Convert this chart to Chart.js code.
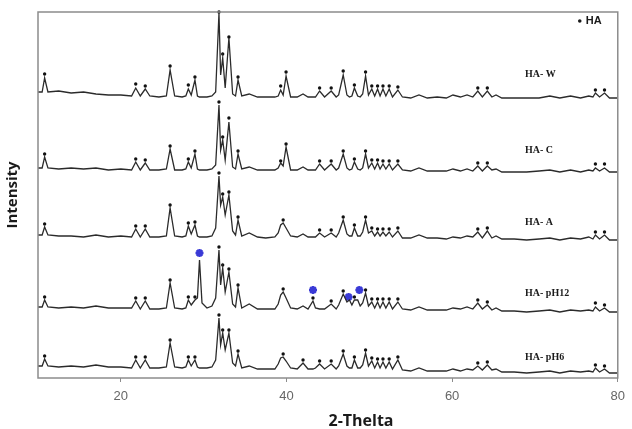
<!DOCTYPE html>
<html>
<head>
<meta charset="utf-8">
<script src="https://cdn.jsdelivr.net/npm/chart.js@4.4.1/dist/chart.umd.min.js"></script>
<style>
  html, body { margin: 0; padding: 0; background: #fff; }
</style>
</head>
<body>
<canvas id="grafico" width="632" height="429"></canvas>
<script>
// Eixo 2-theta (graus) comum a todas as curvas
const theta = [10.0, 10.5, 10.8, 11.2, 12.5, 14.0, 15.5, 17.0, 18.5, 20.0,
  21.3, 21.8, 22.35, 22.95, 23.5, 24.6, 25.5, 25.95, 26.5, 27.4,
  27.85, 28.15, 28.5, 28.95, 29.25, 29.5, 29.8, 30.4, 31.0, 31.45,
  31.85, 32.05, 32.3, 32.6, 33.05, 33.5, 33.85, 34.15, 34.6, 35.5,
  36.5, 37.5, 38.6, 39.0, 39.3, 39.6, 39.95, 40.5, 41.3, 42.0,
  42.6, 43.2, 43.5, 44.0, 44.6, 45.4, 46.0, 46.3, 46.85, 47.3,
  47.6, 47.9, 48.2, 48.6, 48.9, 49.2, 49.55, 49.9, 50.3, 50.65,
  51.0, 51.3, 51.65, 52.0, 52.4, 52.8, 53.45, 54.0, 55.0, 56.0,
  57.0, 58.2, 59.3, 60.1, 61.0, 61.8, 62.5, 63.1, 63.65, 64.25,
  64.8, 65.3, 66.0, 67.5, 69.0, 70.5, 71.8, 73.0, 74.3, 75.5,
  76.5, 77.0, 77.3, 77.8, 78.4, 79.0, 80.0];

// Intensidades (u.a., ja com deslocamento vertical de cada amostra)
const intW = [286, 286, 300, 286, 287, 285, 286, 284, 283, 283,
  282, 290, 282, 289, 282, 281, 282, 308, 282, 281,
  282, 289, 283, 298, 282, 281, 281, 281, 282, 286,
  365, 303, 320, 290, 340, 284, 282, 298, 282, 284,
  281, 281, 281, 282, 288, 283, 302, 281, 281, 284,
  281, 281, 281, 287, 281, 287, 281, 283, 303, 283,
  281, 282, 290, 282, 281, 284, 302, 283, 289, 282,
  289, 282, 289, 282, 289, 281, 288, 281, 280, 283,
  280, 281, 280, 283, 281, 283, 281, 287, 281, 287,
  281, 283, 280, 280, 280, 280, 282, 280, 282, 280,
  282, 281, 285, 281, 285, 280, 280];

const intC = [210, 210, 221, 210, 209, 210, 209, 210, 208, 209,
  208, 216, 208, 215, 208, 208, 209, 229, 208, 208,
  209, 216, 210, 224, 209, 208, 208, 208, 209, 213,
  273, 228, 238, 218, 256, 211, 209, 224, 209, 211,
  208, 208, 208, 210, 215, 212, 231, 208, 208, 211,
  208, 208, 208, 214, 208, 214, 208, 210, 224, 210,
  208, 209, 216, 209, 208, 210, 224, 210, 215, 209,
  215, 209, 214, 209, 214, 208, 214, 208, 207, 210,
  207, 207, 207, 209, 207, 209, 207, 212, 207, 212,
  208, 209, 206, 206, 206, 207, 208, 206, 208, 206,
  208, 207, 210, 207, 210, 206, 206];

const intA = [143, 143, 151, 143, 142, 142, 141, 143, 141, 142,
  141, 149, 141, 149, 141, 141, 142, 170, 142, 141,
  142, 152, 144, 153, 142, 141, 141, 141, 142, 150,
  202, 173, 181, 163, 183, 147, 143, 158, 142, 145,
  141, 140, 141, 145, 153, 155, 150, 142, 141, 144,
  141, 141, 141, 145, 141, 145, 141, 145, 158, 144,
  142, 142, 150, 142, 142, 146, 158, 145, 147, 142,
  146, 142, 146, 142, 146, 141, 147, 140, 140, 143,
  140, 140, 139, 141, 140, 142, 141, 146, 140, 147,
  140, 142, 139, 139, 138, 139, 140, 138, 140, 139,
  141, 139, 143, 139, 143, 138, 138];

const intPH12 = [71, 71, 78, 71, 70, 71, 70, 72, 70, 70,
  70, 77, 69, 77, 69, 69, 70, 95, 70, 69,
  70, 78, 73, 78, 80, 118, 75, 70, 72, 80,
  128, 93, 110, 86, 106, 74, 71, 90, 70, 74,
  69, 69, 69, 74, 83, 86, 80, 70, 69, 72,
  69, 77, 70, 69, 69, 74, 69, 73, 84, 76,
  78, 73, 78, 78, 72, 75, 85, 72, 76, 70,
  76, 70, 76, 70, 76, 69, 76, 69, 68, 71,
  68, 68, 68, 70, 69, 71, 69, 75, 69, 73,
  68, 70, 67, 67, 66, 67, 68, 66, 68, 67,
  68, 67, 71, 67, 70, 66, 66];

const intPH6 = [12, 12, 19, 12, 11, 12, 11, 13, 11, 11,
  10, 18, 10, 18, 10, 10, 11, 35, 11, 10,
  11, 18, 12, 18, 11, 10, 10, 10, 11, 18,
  60, 33, 45, 28, 45, 15, 12, 24, 10, 12,
  9, 9, 9, 14, 20, 21, 17, 10, 9, 15,
  9, 9, 10, 14, 9, 14, 9, 12, 24, 12,
  10, 10, 18, 10, 10, 13, 25, 12, 17, 10,
  16, 10, 16, 10, 16, 9, 18, 8, 7, 10,
  7, 7, 7, 9, 7, 9, 8, 12, 8, 13,
  8, 9, 6, 6, 5, 6, 7, 5, 7, 6,
  7, 6, 10, 6, 9, 5, 5];

// Marcadores de picos de HA (ponto preto)
const dotTheta = [10.8, 21.8, 22.95, 25.95, 28.15, 28.95, 31.85, 32.3, 33.05, 34.15,
  39.3, 39.6, 39.95, 42.0, 43.2, 44.0, 45.4, 46.85, 48.2, 49.55,
  50.3, 51.0, 51.65, 52.4, 53.45, 63.1, 64.25, 77.3, 78.4];
const dotW = [304, 294, 292, 312, 293, 301, 366, 324, 341, 301,
  292, null, 306, null, null, 290, 290, 307, 293, 306,
  292, 292, 292, 292, 291, 290, 290, 288, 288];
const dotC = [224, 219, 218, 232, 219, 227, 276, 241, 260, 227,
  217, null, 234, null, null, 217, 217, 227, 219, 227,
  218, 218, 217, 217, 217, 215, 215, 214, 214];
const dotA = [154, 152, 152, 173, 155, 156, 205, 184, 186, 161,
  null, 158, null, null, null, 148, 148, 161, 153, 161,
  150, 149, 149, 149, 150, 149, 150, 146, 146];
const dotPH12 = [81, 80, 80, 98, 81, 81, 131, 113, 109, 93,
  null, 89, null, null, 80, null, 77, 87, 81, 88,
  79, 79, 79, 79, 79, 78, 76, 75, 73];
const dotPH6 = [22, 21, 21, 38, 21, 21, 63, 48, 48, 27,
  null, 24, null, 18, null, 17, 17, 27, 21, 28,
  20, 19, 19, 19, 21, 15, 16, 13, 12];

// Asteriscos azuis (fase extra na amostra pH12)
const asterTheta = [29.5, 43.2, 47.5, 48.8];
const asterPH12 = [125, 88, 81, 88];

// Nomes das amostras e posicao do rotulo
const amostras = ['HA- W', 'HA- C', 'HA- A', 'HA- pH12', 'HA- pH6'];
const rotuloY = [304, 228, 156, 85, 21];
const rotuloTheta = 68.8;

const ticksX = [20, 40, 60, 80];

function pontos(xs, ys) {
  return xs.map((x, i) => ({ x: x, y: ys[i] }));
}

const curvas = [intW, intC, intA, intPH12, intPH6];
const marcas = [dotW, dotC, dotA, dotPH12, dotPH6];

const datasets = [];
curvas.forEach((c, i) => {
  datasets.push({
    label: amostras[i],
    data: pontos(theta, c),
    showLine: true,
    borderColor: '#2b2b2b',
    borderWidth: 1.3,
    pointRadius: 0,
    tension: 0
  });
  datasets.push({
    label: amostras[i] + ' picos',
    data: pontos(dotTheta, marcas[i]),
    pointRadius: 1.7,
    backgroundColor: '#111111',
    borderWidth: 0,
    clip: false
  });
});
datasets.push({
  label: 'pH12 extra',
  data: pontos(asterTheta, asterPH12),
  pointStyle: 'star',
  pointRadius: 4,
  borderColor: '#3a3ad6',
  backgroundColor: '#3a3ad6',
  borderWidth: 2.4
});

// Moldura, rotulos, legenda "HA" e titulo do eixo x
const extras = {
  id: 'extras',
  afterDraw(chart) {
    const c = chart.ctx;
    const a = chart.chartArea;
    const sx = chart.scales.x;
    const sy = chart.scales.y;
    c.save();
    c.strokeStyle = '#8c8c8c';
    c.lineWidth = 1.5;
    c.strokeRect(a.left, a.top, a.right - a.left, a.bottom - a.top);

    c.fillStyle = '#1a1a1a';
    c.font = 'bold 10px "Liberation Serif", serif';
    c.textAlign = 'left';
    c.textBaseline = 'middle';
    amostras.forEach((nome, i) => {
      c.fillText(nome, sx.getPixelForValue(rotuloTheta), sy.getPixelForValue(rotuloY[i]));
    });

    // legenda
    c.beginPath();
    c.arc(a.right - 38, a.top + 9, 1.8, 0, Math.PI * 2);
    c.fill();
    c.font = 'bold 11px "Liberation Sans", Arial';
    c.fillText('HA', a.right - 32, a.top + 9);

    c.font = 'bold 16px "Open Sans", sans-serif';
    c.textAlign = 'center';
    c.fillText('2-Thelta', 361, 421);
    c.restore();
  }
};

const ctx = document.getElementById('grafico').getContext('2d');
const grafico = new Chart(ctx, {
  type: 'scatter',
  data: { datasets: datasets },
  plugins: [extras],
  options: {
    responsive: false,
    animation: false,
    layout: { padding: { top: 12, right: 6, left: 0, bottom: 0 } },
    plugins: {
      legend: { display: false },
      tooltip: { enabled: false }
    },
    scales: {
      x: {
        type: 'linear',
        min: 10,
        max: 80,
        afterBuildTicks: axis => { axis.ticks = ticksX.map(v => ({ value: v })); },
        afterFit: axis => { axis.height = 51; },
        grid: { display: true, drawOnChartArea: false, drawTicks: true, tickLength: 4, color: '#8c8c8c' },
        border: { display: false },
        ticks: {
          color: '#666666',
          padding: 7,
          maxRotation: 0,
          font: { family: '"Liberation Sans", Arial', size: 13 }
        }
      },
      y: {
        min: 0,
        max: 366,
        afterFit: axis => { axis.width = 38; },
        ticks: { display: false },
        grid: { display: false },
        border: { display: false },
        title: {
          display: true,
          text: 'Intensity',
          color: '#1a1a1a',
          padding: { top: 4, bottom: 0 },
          font: { family: '"Open Sans", sans-serif', size: 15, weight: 'bold' }
        }
      }
    }
  }
});
</script>
</body>
</html>
